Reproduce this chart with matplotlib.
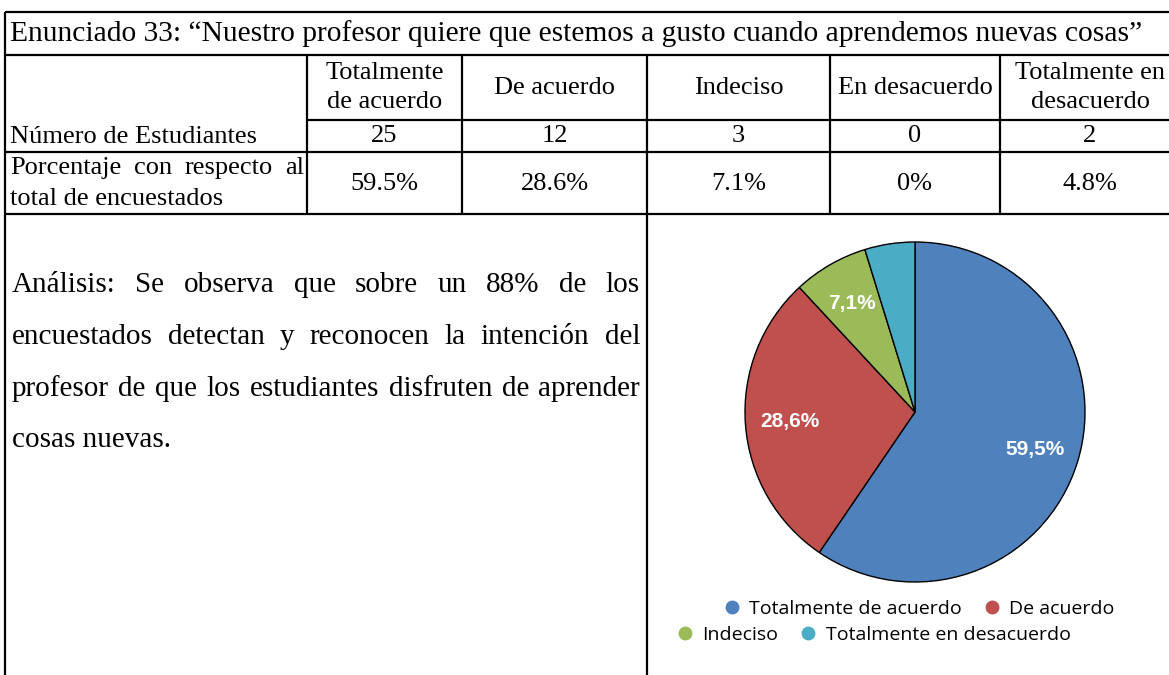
import matplotlib
matplotlib.use("Agg")
import matplotlib.pyplot as plt
from matplotlib.lines import Line2D

# ---------------- data ----------------
title = "Enunciado 33: \u201cNuestro profesor quiere que estemos a gusto cuando aprendemos nuevas cosas\u201d"
categories = ["Totalmente de acuerdo", "De acuerdo", "Indeciso", "En desacuerdo", "Totalmente en desacuerdo"]
header_labels = ["Totalmente\nde acuerdo", "De acuerdo", "Indeciso", "En desacuerdo", "Totalmente en\ndesacuerdo"]
counts = [25, 12, 3, 0, 2]
percent_labels = ["59.5%", "28.6%", "7.1%", "0%", "4.8%"]
row_label_counts = "Número de Estudiantes"
row_label_pct = ["Porcentaje con respecto al", "total de encuestados"]
analysis_lines = [
    "Análisis: Se observa que sobre un 88% de los",
    "encuestados detectan y reconocen la intención del",
    "profesor de que los estudiantes disfruten de aprender",
    "cosas nuevas.",
]
category_colors = ["#4F81BD", "#C0504D", "#9BBB59", "#F79646", "#4BACC6"]

# ---------------- figure ----------------
W, H = 1169, 675
fig = plt.figure(figsize=(W / 100, H / 100), dpi=100)
bg = fig.add_axes([0, 0, 1, 1])
bg.set_xlim(0, W)
bg.set_ylim(H, 0)
bg.axis("off")

SERIF = "Liberation Serif"
LW = 1.6
FS_TABLE = 19

# table geometry (pixels)
left = 5
top = 12
y_title = 55
y_head = 120
y_count = 152
y_pct = 214
col_edges = [307, 462, 647, 830, 1000, 1180]

def hline(y, x0, x1):
    bg.plot([x0, x1], [y, y], color="black", lw=LW, solid_capstyle="butt")

def vline(x, y0, y1):
    bg.plot([x, x], [y0, y1], color="black", lw=LW, solid_capstyle="butt")

hline(top, left, W)
hline(y_title, left, W)
hline(y_head, col_edges[0], W)
hline(y_count, left, W)
hline(y_pct, left, W)
vline(left, top, H)
for x in col_edges[:-1]:
    vline(x, y_title, y_pct)
vline(647, y_pct, H)

renderer = fig.canvas.get_renderer()

def justify(line, x0, x1, y, **kw):
    words = line.split()
    texts = [bg.text(0, y, w, va="center", ha="left", **kw) for w in words]
    widths = [t.get_window_extent(renderer).width for t in texts]
    gap = (x1 - x0 - sum(widths)) / max(len(words) - 1, 1)
    x = x0
    for t, w in zip(texts, widths):
        t.set_x(x)
        x += w + gap

# title
bg.text(10, 34, title, family=SERIF, fontsize=21.25, va="center", ha="left")

# header & body
centers = [(col_edges[i] + col_edges[i + 1]) / 2 for i in range(5)]
for cx, lab, n, p in zip(centers, header_labels, counts, percent_labels):
    parts = lab.split("\n")
    if len(parts) == 2:
        bg.text(cx, 73, parts[0], family=SERIF, fontsize=FS_TABLE, va="center", ha="center")
        bg.text(cx, 102, parts[1], family=SERIF, fontsize=FS_TABLE, va="center", ha="center")
    else:
        bg.text(cx, 88, lab, family=SERIF, fontsize=FS_TABLE, va="center", ha="center")
    bg.text(cx, 136, str(n), family=SERIF, fontsize=FS_TABLE, va="center", ha="center")
    bg.text(cx, 184, p, family=SERIF, fontsize=FS_TABLE, va="center", ha="center")

bg.text(10, 137, row_label_counts, family=SERIF, fontsize=FS_TABLE, va="center", ha="left")
justify(row_label_pct[0], 10, 304, 168, family=SERIF, fontsize=FS_TABLE)
bg.text(10, 199, row_label_pct[1], family=SERIF, fontsize=FS_TABLE, va="center", ha="left")

# analysis paragraph (justified)
ys = [285, 337, 389, 440]
for i, (line, y) in enumerate(zip(analysis_lines, ys)):
    if i < len(analysis_lines) - 1:
        justify(line, 12, 640, y, family=SERIF, fontsize=21)
    else:
        bg.text(12, y, line, family=SERIF, fontsize=21, va="center", ha="left")

# ---------------- pie ----------------
pie_vals = [c for c in counts if c > 0]
pie_cats = [cat for cat, c in zip(categories, counts) if c > 0]
pie_cols = [col for col, c in zip(category_colors, counts) if c > 0]

cx, cy, r = 915, 412, 170
ax = fig.add_axes([(cx - r) / W, 1 - (cy + r) / H, 2 * r / W, 2 * r / H])

def fmt(p):
    return (f"{p:.1f}".replace(".", ",") + "%") if p >= 5 else ""

wedges, texts, autotexts = ax.pie(
    pie_vals, colors=pie_cols, startangle=90, counterclock=False,
    autopct=fmt, pctdistance=0.74,
    wedgeprops=dict(edgecolor="black", linewidth=1.0),
    textprops=dict(color="white", fontsize=15, fontweight="bold", family="Liberation Sans"),
)
ax.set_xlim(-1, 1)
ax.set_ylim(-1, 1)
ax.axis("off")

handles = [Line2D([], [], ls="", marker="o", markersize=10, color=c, markeredgewidth=0) for c in pie_cols]
leg_kw = dict(loc="center", ncol=2, frameon=False, handletextpad=0.38, columnspacing=1.05,
              handlelength=1.0, borderpad=0, prop=dict(family="Open Sans", size=14))
fig.legend(handles[:2], pie_cats[:2], bbox_to_anchor=(918 / W, 1 - 609 / H), **leg_kw)
fig.legend(handles[2:], pie_cats[2:], bbox_to_anchor=(873 / W, 1 - 635 / H), **leg_kw)

fig.savefig("out.png", dpi=100, facecolor="white")
